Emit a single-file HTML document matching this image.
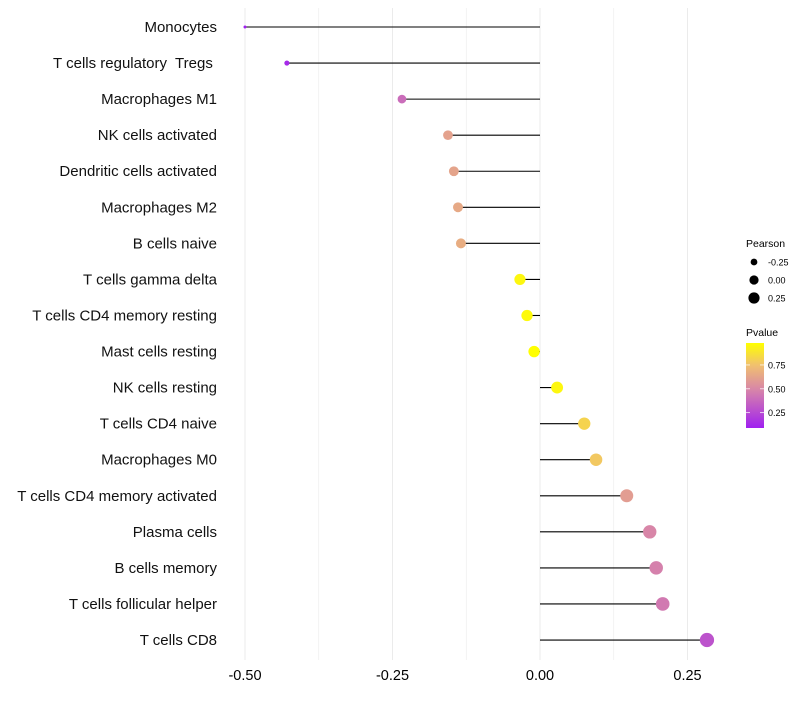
<!DOCTYPE html>
<html><head><meta charset="utf-8"><style>
body{margin:0;background:#fff;font-family:"Liberation Sans",sans-serif;}
text{white-space:pre;}
</style></head><body>
<svg id="chart" width="800" height="700" xmlns="http://www.w3.org/2000/svg" font-family="Liberation Sans, sans-serif"></svg>
<script>
const categories=["Monocytes","T cells regulatory  Tregs ","Macrophages M1","NK cells activated","Dendritic cells activated","Macrophages M2","B cells naive","T cells gamma delta","T cells CD4 memory resting","Mast cells resting","NK cells resting","T cells CD4 naive","Macrophages M0","T cells CD4 memory activated","Plasma cells","B cells memory","T cells follicular helper","T cells CD8"];
const pearson=[-0.5,-0.429,-0.234,-0.156,-0.146,-0.139,-0.134,-0.034,-0.022,-0.010,0.029,0.075,0.095,0.147,0.186,0.197,0.208,0.283];
const pvalues=[0.1,0.14,0.4,0.62,0.63,0.65,0.67,0.95,0.96,0.98,0.95,0.82,0.78,0.6,0.5,0.48,0.45,0.3];
const xTicks=[-0.5,-0.25,0,0.25];
const xTickLabels=["-0.50","-0.25","0.00","0.25"];
const sizeLegend=[-0.25,0,0.25];
const colorTicks=[0.25,0.5,0.75];

const svg=document.getElementById('chart');
const NS="http://www.w3.org/2000/svg";
function x(v){return 540+v*590;}
function y(i){return 27+i*36.06;}
function r(v){return Math.sqrt(Math.max(1,2.25+62*(v+0.5)));}
const stops=[[0.1,[160,32,240]],[0.5,[216,134,168]],[0.75,[240,192,112]],[0.98,[255,255,0]]];
function col(p){
  if(p<=stops[0][0])return `rgb(${stops[0][1]})`;
  for(let k=0;k<stops.length-1;k++){const a=stops[k],b=stops[k+1];
    if(p<=b[0]){const t=(p-a[0])/(b[0]-a[0]);return 'rgb('+a[1].map((c,j)=>Math.round(c+(b[1][j]-c)*t)).join(',')+')';}}
  return `rgb(${stops[stops.length-1][1]})`;
}
function el(tag,attrs,name,inter){const e=document.createElementNS(NS,tag);for(const k in attrs)e.setAttribute(k,attrs[k]);
  
  
  svg.appendChild(e);return e;}
[-0.5,-0.375,-0.25,-0.125,0,0.125,0.25].forEach(v=>{
  el('line',{x1:x(v),x2:x(v),y1:8,y2:660,stroke:'#ebebeb','stroke-width':(v*8)%2===0?1:0.6},'grid-line',false);
});
xTicks.forEach((v,i)=>{
  const t=el('text',{x:x(v),y:680,'text-anchor':'middle','font-size':14.5,fill:'#000'},'x-tick-label',false);
  t.textContent=xTickLabels[i];
});
categories.forEach((c,i)=>{
  const t=el('text',{x:217,y:y(i)+5,'text-anchor':'end','font-size':15,fill:'#111'},'y-category-label',false);
  t.textContent=c;
  el('line',{x1:x(0),x2:x(pearson[i]),y1:y(i),y2:y(i),stroke:'#000','stroke-width':1.1},'lollipop-stem',false);
  el('circle',{cx:x(pearson[i]),cy:y(i),r:r(pearson[i]),fill:col(pvalues[i])},'lollipop-point',true);
});
let t=el('text',{x:746,y:247,'font-size':10.5},'size-legend-title',false);t.textContent='Pearson';
sizeLegend.forEach((v,i)=>{
  const cy=262+i*18;
  el('circle',{cx:754,cy:cy,r:r(v)*0.8,fill:'#000'},'size-legend-key',false);
  const l=el('text',{x:768,y:cy+3.5,'font-size':9},'size-legend-label',false);l.textContent=v.toFixed(2);
});
t=el('text',{x:746,y:336,'font-size':10.5},'color-legend-title',false);t.textContent='Pvalue';
const defs=el('defs',{},'defs',false);
const g=document.createElementNS(NS,'linearGradient');g.setAttribute('id','pg');g.setAttribute('x1','0');g.setAttribute('y1','1');g.setAttribute('x2','0');g.setAttribute('y2','0');
for(let k=0;k<=20;k++){const p=0.1+k*0.044;const s=document.createElementNS(NS,'stop');s.setAttribute('offset',k/20);s.setAttribute('stop-color',col(p));g.appendChild(s);}
defs.appendChild(g);
el('rect',{x:746,y:343,width:18,height:85,fill:'url(#pg)'},'color-bar',false);
colorTicks.forEach(v=>{
  const cy=427-(v-0.1)/0.88*84;
  el('line',{x1:746,x2:750,y1:cy,y2:cy,stroke:'#fff','stroke-width':0.7},'color-tick',false);
  el('line',{x1:760,x2:764,y1:cy,y2:cy,stroke:'#fff','stroke-width':0.7},'color-tick',false);
  const l=el('text',{x:768,y:cy+3.5,'font-size':9},'color-legend-label',false);l.textContent=v.toFixed(2);
});
</script>
</body></html>
